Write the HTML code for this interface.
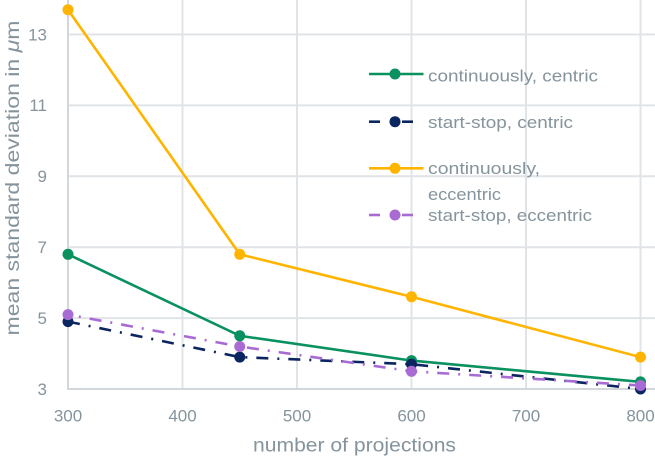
<!DOCTYPE html>
<html><head><meta charset="utf-8"><style>
html,body{margin:0;padding:0;background:#fff;}
svg{display:block;}
text{font-family:"Liberation Sans",sans-serif;fill:#85949C;}
</style></head><body>
<svg width="655" height="460" viewBox="0 0 655 460" xmlns="http://www.w3.org/2000/svg">
<g stroke="#E0E4E7" stroke-width="2" fill="none">
<line x1="182.5" y1="0" x2="182.5" y2="389"/>
<line x1="297" y1="0" x2="297" y2="389"/>
<line x1="411.5" y1="0" x2="411.5" y2="389"/>
<line x1="526" y1="0" x2="526" y2="389"/>
<line x1="640.5" y1="0" x2="640.5" y2="389"/>
<line x1="68" y1="318.1" x2="655" y2="318.1"/>
<line x1="68" y1="247.2" x2="655" y2="247.2"/>
<line x1="68" y1="176.3" x2="655" y2="176.3"/>
<line x1="68" y1="105.4" x2="655" y2="105.4"/>
<line x1="68" y1="34.5" x2="655" y2="34.5"/>
</g>
<g stroke="#D2D7DB" stroke-width="2" fill="none">
<line x1="68" y1="0" x2="68" y2="390"/>
<line x1="67" y1="389" x2="655" y2="389"/>
</g>
<g font-size="17" text-anchor="end">
<text x="47" y="395">3</text>
<text x="47" y="324">5</text>
<text x="47" y="253">7</text>
<text x="47" y="182">9</text>
<text x="47" y="111">11</text>
<text x="47" y="40.5">13</text>
</g>
<g font-size="17" text-anchor="middle">
<text x="68" y="421.5">300</text>
<text x="182.5" y="421.5">400</text>
<text x="297" y="421.5">500</text>
<text x="411.5" y="421.5">600</text>
<text x="526" y="421.5">700</text>
<text x="640.5" y="421.5">800</text>
</g>
<text x="354.5" y="451.5" font-size="19" text-anchor="middle" textLength="203" lengthAdjust="spacingAndGlyphs">number of projections</text>
<text transform="translate(19,178) rotate(-90)" font-size="19" text-anchor="middle" textLength="315" lengthAdjust="spacingAndGlyphs">mean standard deviation in <tspan font-style="italic">μ</tspan>m</text>

<polyline points="68,254.3 239.75,335.8 411.5,360.6 640.5,381.9" fill="none" stroke="#0A9160" stroke-width="2.6"/>
<g fill="#0A9160"><circle cx="68" cy="254.3" r="5.5"/><circle cx="239.75" cy="335.8" r="5.5"/><circle cx="411.5" cy="360.6" r="5.5"/><circle cx="640.5" cy="381.9" r="5.5"/></g>

<polyline points="68,321.6 239.75,357.1 411.5,364.2 640.5,389" fill="none" stroke="#0B2560" stroke-width="2.6" stroke-dasharray="12 9 2 9"/>
<g fill="#0B2560"><circle cx="68" cy="321.6" r="5.5"/><circle cx="239.75" cy="357.1" r="5.5"/><circle cx="411.5" cy="364.2" r="5.5"/><circle cx="640.5" cy="389" r="5.5"/></g>

<polyline points="68,9.7 239.75,254.3 411.5,296.8 640.5,357.1" fill="none" stroke="#FFB400" stroke-width="2.6"/>
<g fill="#FFB400"><circle cx="68" cy="9.7" r="5.5"/><circle cx="239.75" cy="254.3" r="5.5"/><circle cx="411.5" cy="296.8" r="5.5"/><circle cx="640.5" cy="357.1" r="5.5"/></g>

<polyline points="68,314.6 239.75,346.5 411.5,371.3 640.5,385.5" fill="none" stroke="#A86BD4" stroke-width="2.6" stroke-dasharray="12 9 2 9" stroke-dashoffset="10"/>
<g fill="#A86BD4"><circle cx="68" cy="314.6" r="5.5"/><circle cx="239.75" cy="346.5" r="5.5"/><circle cx="411.5" cy="371.3" r="5.5"/><circle cx="640.5" cy="385.5" r="5.5"/></g>

<line x1="369" y1="74" x2="423.5" y2="74" stroke="#0A9160" stroke-width="2.6"/>
<circle cx="395" cy="74" r="5.5" fill="#0A9160"/>
<text x="428" y="81.5" font-size="17" textLength="170" lengthAdjust="spacingAndGlyphs">continuously, centric</text>

<line x1="369" y1="121.7" x2="380" y2="121.7" stroke="#0B2560" stroke-width="2.6"/>
<line x1="402" y1="121.7" x2="413" y2="121.7" stroke="#0B2560" stroke-width="2.6"/>
<circle cx="395" cy="121.7" r="5.5" fill="#0B2560"/>
<text x="428" y="128" font-size="17" textLength="145" lengthAdjust="spacingAndGlyphs">start-stop, centric</text>

<line x1="369" y1="168.3" x2="423.5" y2="168.3" stroke="#FFB400" stroke-width="2.6"/>
<circle cx="395" cy="168.3" r="5.5" fill="#FFB400"/>
<text x="428" y="174" font-size="17" textLength="112" lengthAdjust="spacingAndGlyphs">continuously,</text>
<text x="428" y="200" font-size="17" textLength="73" lengthAdjust="spacingAndGlyphs">eccentric</text>

<line x1="369" y1="215" x2="380" y2="215" stroke="#A86BD4" stroke-width="2.6"/>
<line x1="402" y1="215" x2="413" y2="215" stroke="#A86BD4" stroke-width="2.6"/>
<circle cx="395" cy="215" r="5.5" fill="#A86BD4"/>
<text x="428" y="221" font-size="17" textLength="164" lengthAdjust="spacingAndGlyphs">start-stop, eccentric</text>
</svg>
</body></html>
